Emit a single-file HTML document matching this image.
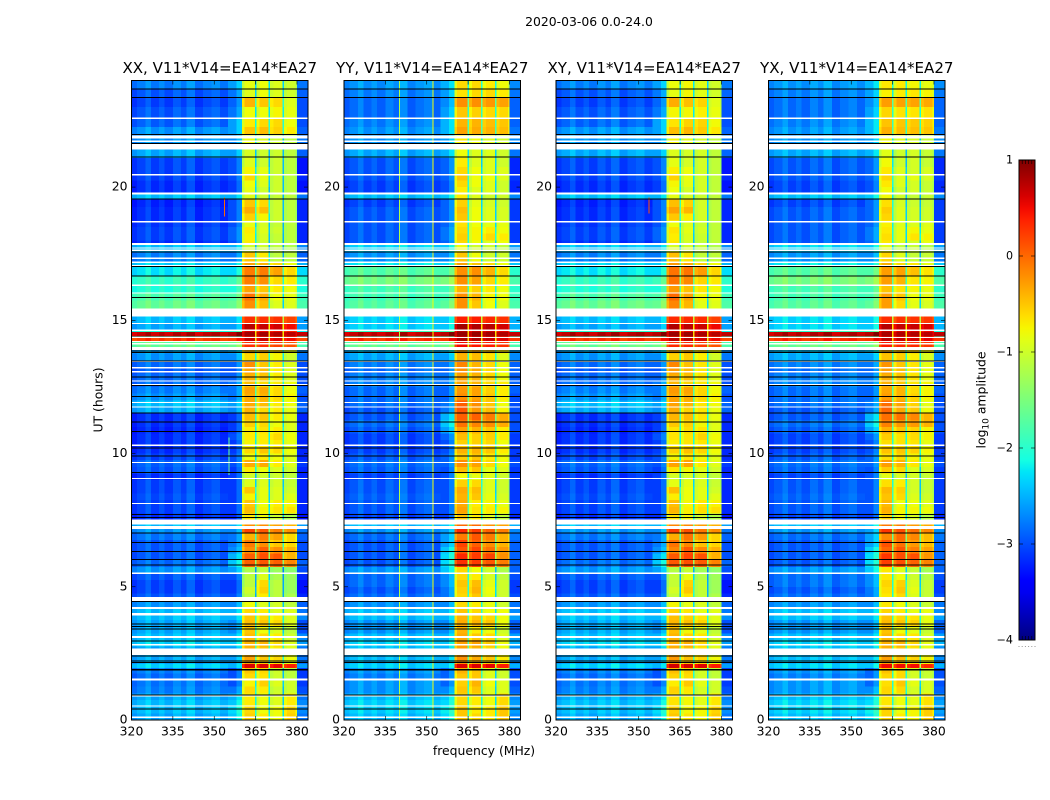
<!DOCTYPE html>
<html lang="en">
<head>
<meta charset="utf-8">
<title>2020-03-06 0.0-24.0</title>
<style>
html,body{margin:0;padding:0;background:#fff;width:1050px;height:800px;overflow:hidden}
svg{display:block}
text{font-family:"DejaVu Sans","Liberation Sans",sans-serif;fill:#000}
</style>
</head>
<body>
<svg id="chart" xmlns="http://www.w3.org/2000/svg" width="1050" height="800" viewBox="0 0 1050 800">
  <text x="589" y="26" font-size="12.4" text-anchor="middle">2020-03-06 0.0-24.0</text>
  <text x="484" y="755" font-size="12.4" text-anchor="middle">frequency (MHz)</text>
  <text x="0" y="0" font-size="12.4" text-anchor="middle" transform="translate(102.5,400) rotate(-90)">UT (hours)</text>
  <text x="0" y="0" font-size="12.4" text-anchor="middle" transform="translate(985.5,400) rotate(-90)">log<tspan font-size="9" dy="3">10</tspan><tspan dy="-3"> amplitude</tspan></text>
  <defs>
    <linearGradient id="jetGradient" x1="0" y1="1" x2="0" y2="0"></linearGradient>
  </defs>
</svg>
<script>
// ---------- chart data (hours, MHz, log10 amplitude) ----------
const panelTitles = ["XX, V11*V14=EA14*EA27","YY, V11*V14=EA14*EA27","XY, V11*V14=EA14*EA27","YX, V11*V14=EA14*EA27"];
const xTickLabels = [320,335,350,365,380];
const yTickLabels = [0,5,10,15,20];
const colorTickLabels = [1,0,-1,-2,-3,-4];
const colorEdgeTicks = [0,0.2,0.4,0.6,0.8,1];

// start hour of every time bin (a bin lasts until the next start; last ends at 24)
const rowStartHours = [0,.25,.5,.75,1,1.25,1.5,1.75,1.95,2.1,2.4,2.75,3,3.25,3.5,3.75,4,4.25,4.5,4.75,5,5.25,5.5,5.75,6,6.25,6.5,6.75,7,7.25,7.5,7.75,8,8.25,8.5,8.75,9,9.25,9.5,9.75,10,10.25,10.5,10.75,11,11.25,11.5,11.75,12,12.25,12.5,12.75,13,13.25,13.5,13.75,14,14.2,14.33,14.4,14.56,14.66,14.88,15.15,15.44,15.75,16,16.3,16.66,17.02,17.17,17.57,17.85,18,18.25,18.5,18.75,19,19.25,19.55,19.75,20,20.25,20.5,20.75,21.1,21.6,21.95,22.25,22.6,23,23.37,23.7];

// columns: 320-355, 355-360, 360-365, 365-370, 370-375, 375-380, 380-384 MHz
const seriesXX = [
[-2.5,-2.4,-.55,-.7,-.8,-.55,-2.8],[-2.4,-2.3,-.6,-.8,-.8,-.6,-2.7],[-2.4,-2.4,-.7,-.8,-.9,-.7,-2.7],[-2.5,-2.5,-.7,-.8,-.9,-.7,-2.8],
[-2.7,-2.8,-.6,-.7,-1,-1,-3],[-2.75,-3,-.75,-.55,-.9,-1,-3.1],[-2.8,-3,-.6,-.65,-1,-1.1,-3.1],[-2.7,-3,-.5,-.6,-1,-1.1,-3.1],
[-2.3,-2.5,.6,.6,.55,.4,-2.6],[-2.5,-2.6,-.3,-.5,-.6,-.8,-2.8],[-2.5,-2.6,-.4,-.5,-.7,-.9,-2.8],[-2.3,-2.4,-.4,-.4,-.6,-.9,-2.6],
[-2.4,-2.5,-.45,-.6,-.7,-1,-2.7],[-2.5,-2.7,-.5,-.8,-.9,-1.1,-3],[-2.5,-2.7,-.45,-.5,-.6,-.9,-3],[-2.4,-2.5,-.5,-.6,-.7,-.9,-2.7],
[-2.4,-2.5,-.6,-.7,-.9,-.9,-2.8],[-2.6,-2.7,-.8,-.9,-.95,-1.1,-2.9],[-2.9,-3,-1.1,-.7,-1.1,-1.2,-3.2],[-3,-3.1,-1,-.55,-1.1,-1.3,-3.3],
[-3,-3.1,-1.1,-.6,-1.1,-1.3,-3.3],[-2.9,-3,-1.1,-.9,-1.2,-1.3,-3.2],[-2.6,-2.6,-1.2,-1.1,-1.3,-1.4,-3],[-2.8,-2.4,.05,.1,.05,-.15,-2.9],
[-2.9,-2.5,.05,.15,.1,-.4,-3],[-2.9,-2.7,-.2,.05,-.2,-.4,-3],[-2.9,-2.8,-.1,-.2,-.5,-.6,-3],[-2.75,-2.8,-.4,-.1,-.3,-.6,-2.9],
[-2.6,-2.7,.2,.1,-.1,-.2,-2.8],[-2.4,-2.5,-.2,-.2,-.3,-.4,-2.6],[-3.1,-3.2,-.7,-.8,-1,-1.2,-3.3],[-3,-3.1,-.45,-.75,-.65,-.65,-3.2],
[-3,-3.1,-.5,-.8,-.7,-.75,-3.2],[-2.95,-3.1,-.75,-.85,-.9,-.9,-3.2],[-3,-3.1,-.5,-.85,-.9,-1,-3.2],[-3,-3.1,-.9,-.9,-.95,-1.05,-3.2],
[-3.1,-3.1,-1,-1,-1,-1.1,-3.2],[-2.9,-3.1,-.7,-.8,-.9,-1,-3.2],[-2.85,-3,-.35,-.35,-.7,-.9,-3.1],[-3,-3,-.8,-.7,-.8,-.9,-3.2],
[-3.1,-3.1,-.6,-.5,-.6,-.8,-3.2],[-3.1,-3.1,-.75,-.7,-.7,-.85,-3.2],[-3.1,-3,-.7,-.7,-.6,-.8,-3.2],[-3.15,-3.1,-.7,-.65,-.7,-.9,-3.2],
[-3.1,-3.1,-.55,-.6,-.8,-.9,-3.2],[-3.1,-3.1,-.45,-.5,-.7,-.85,-3.2],[-2.5,-2.7,-.4,-.6,-.7,-.85,-2.9],[-2.4,-2.6,-.35,-.45,-.7,-.8,-2.9],
[-2.6,-2.8,-.35,-.4,-.6,-.75,-3],[-2.7,-2.8,-.3,-.35,-.6,-.8,-2.9],[-2.8,-2.8,-.45,-.6,-.7,-.8,-3],[-2.8,-2.9,-.4,-.5,-.7,-.9,-3],
[-2.9,-3,-.3,-.45,-.7,-.9,-3],[-2.8,-2.9,-.2,-.5,-.7,-.9,-3],[-2.6,-2.7,-.6,-.55,-.75,-1,-2.8],[-2.5,-2.5,-.4,-.4,-.6,-.8,-2.7],
[-1.6,-1.6,.3,.3,.2,.1,-1.8],[.25,.2,.7,.7,.6,.5,.15],[-2,-2,.4,.4,.3,.3,-2],[.75,.75,.85,.85,.8,.75,.7],
[-2,-2,.6,.5,.5,.4,-2.2],[-2.5,-2.6,.75,.7,.65,.5,-2.6],[-2.4,-2.5,.3,.3,.3,.2,-2.6],[-2.4,-2.5,.2,.2,.2,.1,-2.6],
[-1.6,-1.65,-.2,-.45,-.9,-.9,-1.8],[-1.75,-1.8,-.05,-.35,-.8,-.85,-1.9],[-2,-2.1,-.3,-.5,-.7,-.8,-2.1],[-1.9,-1.9,-.1,-.2,-.6,-.7,-2],
[-2.2,-2.3,-.1,-.1,-.3,-.6,-2.3],[-2.3,-2.4,-.3,-.4,-.6,-.8,-2.5],[-2.7,-2.8,-.5,-.7,-1.1,-1.1,-2.9],[-2.4,-2.5,-1,-1,-1.1,-1.2,-2.7],
[-3.1,-3,-.7,-1,-1.1,-1.1,-3.2],[-3,-2.9,-.75,-.95,-1.05,-1.1,-3.2],[-3,-2.9,-.7,-.9,-1,-1.1,-3.2],[-3.05,-3,-.85,-.95,-1.05,-1.1,-3.2],
[-3.1,-3,-.55,-.75,-1,-1.1,-3.2],[-3.1,-3,-.35,-.45,-1,-1.1,-3.2],[-3.15,-3,-.5,-.6,-1,-1.1,-3.2],[-2.4,-2.5,-.9,-1,-1.05,-1.1,-2.8],
[-3.1,-3.1,-.85,-1,-1,-1.1,-3.3],[-3.1,-3.1,-.8,-.9,-1,-1.1,-3.3],[-3,-3,-.6,-.85,-1,-1.1,-3.2],[-3,-3,-.75,-.85,-1,-1.1,-3.3],
[-3,-3,-.9,-1,-1,-1.1,-3.3],[-2.5,-2.6,-.95,-1,-1,-1.1,-2.9],[-2.6,-2.7,-.8,-.9,-1,-1.1,-2.8],[-2.6,-2.6,-.5,-.45,-.55,-.7,-2.9],
[-2.85,-2.6,-.7,-.6,-.6,-.8,-3],[-2.9,-2.8,-.8,-.8,-.75,-.85,-3],[-3,-2.9,-.4,-.5,-.6,-.9,-3],[-2.9,-2.8,-.9,-.8,-.9,-1,-2.9],
[-2.7,-2.6,-.85,-.8,-.9,-1,-2.8]];

const seriesYY = [
[-2.4,-2.3,-.5,-.6,-.7,-.5,-2.7],[-2.3,-2.2,-.5,-.7,-.7,-.5,-2.6],[-2.3,-2.3,-.6,-.7,-.8,-.6,-2.6],[-2.4,-2.4,-.6,-.7,-.8,-.6,-2.7],
[-2.6,-2.7,-.5,-.5,-.9,-.9,-2.9],[-2.6,-2.9,-.55,-.4,-.8,-.9,-3],[-2.7,-2.9,-.5,-.5,-.9,-1,-3],[-2.6,-2.9,-.4,-.5,-.9,-1,-3],
[-2.3,-2.4,.6,.6,.55,.4,-2.5],[-2.4,-2.5,-.2,-.35,-.5,-.7,-2.7],[-2.4,-2.5,-.3,-.4,-.6,-.8,-2.7],[-2.3,-2.4,-.3,-.3,-.5,-.8,-2.5],
[-2.4,-2.5,-.35,-.5,-.6,-.9,-2.6],[-2.6,-2.7,-.4,-.7,-.8,-1,-2.9],[-2.6,-2.7,-.35,-.4,-.5,-.8,-2.9],[-2.4,-2.5,-.4,-.5,-.6,-.8,-2.6],
[-2.4,-2.5,-.5,-.6,-.8,-.8,-2.7],[-2.6,-2.7,-.6,-.7,-.85,-1,-2.8],[-2.8,-2.8,-.6,-.5,-.85,-1,-3],[-2.9,-2.8,-.55,-.4,-.8,-1,-3.1],
[-2.8,-2.7,-.5,-.45,-.85,-1,-3.1],[-2.8,-2.7,-.6,-.7,-.95,-1.1,-3],[-2.6,-2.4,-.6,-.8,-1,-1.2,-2.9],[-2.9,-2.3,.3,.25,.1,-.1,-2.9],
[-2.9,-2.3,.35,.25,.2,-.2,-2.9],[-2.9,-2.4,.1,.2,-.05,-.25,-2.9],[-2.9,-2.6,.2,.05,-.2,-.4,-2.9],[-2.8,-2.6,-.1,.1,-.1,-.4,-2.8],
[-2.6,-2.6,.35,.25,.05,-.1,-2.7],[-2.4,-2.4,0,0,-.2,-.3,-2.5],[-3,-3.1,-.5,-.7,-.9,-1.1,-3.2],[-2.9,-3,-.3,-.65,-.7,-.75,-3.1],
[-2.9,-3,-.35,-.7,-.75,-.85,-3.1],[-2.85,-3,-.4,-.5,-.85,-.95,-3.1],[-2.9,-3,-.35,-.45,-.9,-1,-3.1],[-2.9,-3,-.55,-.6,-.9,-1,-3.1],
[-3,-3,-.8,-.85,-.9,-1,-3.1],[-2.85,-3,-.45,-.5,-.85,-.9,-3.1],[-2.8,-2.9,-.2,-.3,-.6,-.8,-3],[-2.9,-2.9,-.55,-.5,-.7,-.8,-3.1],
[-3,-3,-.4,-.4,-.5,-.7,-3.1],[-3,-3,-.55,-.55,-.6,-.8,-3.1],[-3,-2.9,-.45,-.55,-.55,-.7,-3.1],[-2.9,-2.6,-.3,-.4,-.5,-.7,-3],
[-2.8,-2.4,-.05,-.15,-.2,-.35,-3],[-2.9,-2.5,.05,.05,-.1,-.35,-3],[-2.9,-2.8,.1,-.25,-.45,-.75,-3],[-2.8,-2.8,.05,-.2,-.5,-.8,-3],
[-2.8,-2.9,-.2,-.3,-.5,-.7,-3],[-2.8,-2.9,-.25,-.3,-.55,-.7,-2.9],[-2.7,-2.8,-.3,-.4,-.6,-.7,-2.9],[-2.7,-2.8,-.3,-.4,-.6,-.8,-2.9],
[-2.8,-2.9,-.2,-.35,-.6,-.8,-2.9],[-2.7,-2.8,-.15,-.4,-.6,-.8,-2.9],[-2.5,-2.6,-.4,-.45,-.65,-.9,-2.7],[-2.4,-2.4,-.3,-.35,-.5,-.7,-2.6],
[-1.6,-1.6,.5,.45,.4,.3,-1.8],[.3,.25,.8,.8,.7,.6,.25],[-1.9,-1.9,.6,.55,.5,.4,-1.9],[.75,.75,.9,.9,.85,.8,.7],
[-1.9,-1.9,.75,.7,.65,.55,-2.1],[-2.3,-2.4,.85,.8,.75,.65,-2.5],[-2.3,-2.4,.4,.4,.35,.3,-2.5],[-2.3,-2.4,.3,.3,.3,.2,-2.5],
[-1.7,-1.7,-.2,-.5,-.8,-.9,-1.8],[-1.8,-1.85,-.2,-.4,-.75,-.8,-1.9],[-1.8,-1.9,-.4,-.55,-.7,-.8,-2],[-1.5,-1.5,-.2,-.3,-.6,-.7,-1.8],
[-1.7,-1.8,-.2,-.2,-.4,-.6,-2],[-2.2,-2.3,-.3,-.5,-.6,-.8,-2.4],[-2.6,-2.7,-.5,-.8,-1,-1,-2.8],[-2.3,-2.4,-.8,-1,-1,-1.1,-2.6],
[-2.9,-2.9,-.6,-.8,-.9,-.8,-3.1],[-2.9,-2.8,-.55,-.75,-.6,-.7,-3.1],[-2.9,-2.8,-.6,-.75,-.7,-.8,-3.1],[-2.9,-2.9,-.65,-.8,-.85,-.85,-3.1],
[-2.9,-2.9,-.5,-.8,-.9,-.95,-3.1],[-2.9,-2.9,-.45,-.8,-.9,-.95,-3.1],[-3,-2.9,-.55,-.85,-.95,-1,-3.1],[-2.4,-2.4,-.7,-.9,-1,-1,-2.7],
[-3,-3,-.7,-.9,-.9,-1,-3.2],[-3,-3,-.6,-.8,-.9,-1,-3.2],[-2.9,-2.9,-.5,-.8,-.8,-.9,-3.1],[-2.9,-2.9,-.6,-.8,-.9,-.9,-3.2],
[-2.9,-2.9,-.7,-.9,-.9,-1,-3.2],[-2.5,-2.5,-.8,-.9,-.9,-1,-2.8],[-2.6,-2.6,-.7,-.8,-.9,-1,-2.7],[-2.6,-2.5,-.3,-.35,-.4,-.45,-2.8],
[-2.7,-2.5,-.4,-.4,-.45,-.5,-2.9],[-2.8,-2.6,-.5,-.55,-.6,-.6,-2.9],[-2.8,-2.7,-.2,-.2,-.25,-.3,-2.9],[-2.7,-2.6,-.65,-.6,-.6,-.7,-2.8],
[-2.6,-2.5,-.6,-.6,-.7,-.8,-2.7]];

// per-column level difference of the cross hands relative to their parent hand
const offsetsXX = [0,0,0,0,0,0,0];
const offsetsYY = [0,0,0,0,0,0,0];
const offsetsXY = [.02,.02,.04,.04,.03,.02,.02];
const offsetsYX = [.02,.02,-.08,-.1,-.06,-.04,.02];

// frequency channels: start MHz, source column, bandpass level adjustment
const channelStartMHz = [320,322,325,327,330,332,335,338,340,343,346,349,352,355,358,360,361,364.7,365.3,366.4,369.7,370.3,371.4,374.7,375.3,376.4,379.4,380];
const channelColumn   = [0,0,0,0,0,0,0,0,0,0,0,0,0,1,1,2,2,2,3,3,3,4,4,4,5,5,5,6];
const channelAdjust   = [-.15,-.05,.1,-.1,.02,-.12,.05,-.08,.12,-.14,-.02,.06,-.1,0,.25,-.25,0,-1.45,-.2,0,-1.45,-.1,0,-1.45,-.1,0,-.2,0];

// flagged (blank) time ranges and dead-correlator (black) times, hours
const flagStartHours = [.08,.5,.88,1.48,2.44,2.79,3.08,3.93,4.17,4.46,5.48,7.17,7.33,8.1,9.04,9.64,10.28,11.72,11.9,12.56,12.7,13.04,13.2,13.45,13.88,14.1,14.19,14.34,14.6,14.86,15.15,16,16.29,17.05,17.15,17.31,17.6,17.7,17.83,18.68,19.72,20.44,21.41,21.7,21.83,22.56];
const flagEndHours   = [.13,.54,.92,1.56,2.68,2.85,3.16,4.02,4.24,4.62,5.53,7.28,7.53,8.15,9.09,9.69,10.33,11.77,11.94,12.61,12.75,13.09,13.25,13.48,14,14.14,14.22,14.37,14.65,14.9,15.44,16.05,16.34,17.08,17.2,17.36,17.65,17.74,17.9,18.73,19.8,20.49,21.63,21.74,21.93,22.61];
const blackHours = [.42,.94,1.87,1.9,2.15,2.22,2.41,2.97,3.42,3.5,3.6,4.44,5.82,6.02,6.32,6.67,7.02,7.6,7.71,9.29,9.9,10.2,10.82,11.19,11.52,12.15,12.55,12.87,13.47,13.8,13.84,15.85,16.66,17.02,17.57,19.56,21.12,21.63,21.97,23.37,23.69];

// narrow-band interference lines
const rfiPanel = [1,1,0,0,2];
const rfiMHz = [340,352,355.2,353.6,353.6];
const rfiStartHours = [0,0,9.2,18.9,19];
const rfiEndHours = [24,24,10.6,19.6,19.6];
const rfiLevel = [-1.2,-.8,-1.6,0,.1];

// ---------- layout & scales ----------
const svgNS = "http://www.w3.org/2000/svg";
const chart = document.getElementById("chart");
const panelLeft = [131.5,344,556,768.5];
const panelWidth = 176.5;
const plotTop = 80.5;
const plotBottom = 720;
const freqMin = 320, freqMax = 384, hourMin = 0, hourMax = 24;
const colorMin = -4, colorMax = 1;
const cbarLeft = 1019, cbarWidth = 16, cbarTop = 160, cbarBottom = 640;

function xScale(mhz, p){ return panelLeft[p] + (mhz - freqMin) / (freqMax - freqMin) * panelWidth; }
function yScale(h){ return plotBottom - (h - hourMin) / (hourMax - hourMin) * (plotBottom - plotTop); }
function cScale(v){ return cbarBottom - (v - colorMin) / (colorMax - colorMin) * (cbarBottom - cbarTop); }
function ramp(t, pts){
  if (t <= pts[0][0]) return pts[0][1];
  for (let i = 1; i < pts.length; i++) {
    if (t <= pts[i][0]) {
      const f = (t - pts[i-1][0]) / (pts[i][0] - pts[i-1][0]);
      return pts[i-1][1] + f * (pts[i][1] - pts[i-1][1]);
    }
  }
  return pts[pts.length-1][1];
}
function jet(v){
  const t = Math.max(0, Math.min(1, (v - colorMin) / (colorMax - colorMin)));
  const r = ramp(t, [[0,0],[.35,0],[.66,1],[.89,1],[1,.5]]);
  const g = ramp(t, [[0,0],[.125,0],[.375,1],[.64,1],[.91,0],[1,0]]);
  const b = ramp(t, [[0,.5],[.11,1],[.34,1],[.65,0],[1,0]]);
  return "rgb(" + Math.round(r*255) + "," + Math.round(g*255) + "," + Math.round(b*255) + ")";
}
function make(tag, parent, attrs){
  const el = document.createElementNS(svgNS, tag);
  for (const k in attrs) el.setAttribute(k, attrs[k]);
  parent.appendChild(el);
  return el;
}

const panelSeries = [seriesXX, seriesYY, seriesXX, seriesYY];
const panelOffsets = [offsetsXX, offsetsYY, offsetsXY, offsetsYX];
const panelKeys = ["xx","yy","xy","yx"];

panelTitles.forEach(function(title, p){
  const g = make("g", chart, {});
  
  

  const cells = make("g", g, {"shape-rendering":"crispEdges"});
  
  
  const series = panelSeries[p];
  const offs = panelOffsets[p];

  // heatmap cells
  rowStartHours.forEach(function(startH, r){
    const endH = r + 1 < rowStartHours.length ? rowStartHours[r+1] : hourMax;
    channelStartMHz.forEach(function(startF, c){
      const endF = c + 1 < channelStartMHz.length ? channelStartMHz[c+1] : freqMax;
      const col = channelColumn[c];
      const level = series[r][col] + offs[col] + channelAdjust[c];
      const x0 = xScale(startF, p), x1 = xScale(endF, p), y0 = yScale(endH), y1 = yScale(startH);
      const cell = make("rect", cells, {x:x0, y:y0, width:x1-x0, height:y1-y0, fill:jet(level)});
      
      
    });
  });

  // interference lines
  rfiMHz.forEach(function(mhz, i){
    if (rfiPanel[i] !== p) return;
    const y0 = yScale(rfiEndHours[i]), y1 = yScale(rfiStartHours[i]);
    const line = make("rect", cells, {x:xScale(mhz,p), y:y0, width:1, height:y1-y0, fill:jet(rfiLevel[i])});
    
    
  });

  // flagged rows
  flagStartHours.forEach(function(startH, i){
    const y0 = yScale(flagEndHours[i]), y1 = yScale(startH);
    const flag = make("rect", cells, {x:panelLeft[p], y:y0, width:panelWidth, height:Math.max(1,y1-y0), fill:"#fff"});
    
    
  });
  blackHours.forEach(function(h){
    const line = make("rect", cells, {x:panelLeft[p], y:yScale(h)-0.5, width:panelWidth, height:1, fill:"#000"});
    
    
  });

  // frame
  const frame = make("rect", g, {x:panelLeft[p], y:plotTop, width:panelWidth, height:plotBottom-plotTop, fill:"none", stroke:"#000", "stroke-width":1});
  
  

  // x ticks
  xTickLabels.forEach(function(v){
    const x = xScale(v, p);
    const t1 = make("line", g, {x1:x, x2:x, y1:plotBottom, y2:plotBottom-4, stroke:"#000", "stroke-width":.6});
    
    
    const t2 = make("line", g, {x1:x, x2:x, y1:plotTop, y2:plotTop+4, stroke:"#000", "stroke-width":.6});
    
    
    const label = make("text", g, {x:x, y:plotBottom+15.5, "font-size":12.4, "text-anchor":"middle"});
    label.textContent = String(v);
    
    
  });

  // y ticks
  yTickLabels.forEach(function(v){
    const y = yScale(v);
    const left = panelLeft[p], right = panelLeft[p] + panelWidth;
    const t1 = make("line", g, {x1:left, x2:left+4, y1:y, y2:y, stroke:"#000", "stroke-width":.6});
    
    
    const t2 = make("line", g, {x1:right, x2:right-4, y1:y, y2:y, stroke:"#000", "stroke-width":.6});
    
    
    const label = make("text", g, {x:left-4, y:y+3.5, "font-size":12.4, "text-anchor":"end"});
    label.textContent = String(v);
    
    
  });

  // title
  const head = make("text", g, {x:panelLeft[p]+panelWidth/2, y:73, "font-size":15.05, "text-anchor":"middle"});
  head.textContent = title;
  
  
});

// ---------- colorbar ----------
const gradient = document.getElementById("jetGradient");
for (let i = 0; i <= 40; i++) {
  const v = colorMin + (colorMax - colorMin) * i / 40;
  make("stop", gradient, {offset:(i/40), "stop-color":jet(v)});
}
const cbar = make("g", chart, {});


const cbarBody = make("rect", cbar, {x:cbarLeft, y:cbarTop, width:cbarWidth, height:cbarBottom-cbarTop, fill:"url(#jetGradient)", stroke:"#000", "stroke-width":1});


colorTickLabels.forEach(function(v){
  const y = cScale(v);
  const t1 = make("line", cbar, {x1:cbarLeft, x2:cbarLeft+4, y1:y, y2:y, stroke:"#000", "stroke-width":.6});
  
  
  const t2 = make("line", cbar, {x1:cbarLeft+cbarWidth, x2:cbarLeft+cbarWidth-4, y1:y, y2:y, stroke:"#000", "stroke-width":.6});
  
  
  const label = make("text", cbar, {x:1013, y:y+3.5, "font-size":11.1, "text-anchor":"end"});
  label.textContent = v < 0 ? "\u2212" + Math.abs(v) : String(v);
  
  
});
colorEdgeTicks.forEach(function(f){
  const x = cbarLeft + f * cbarWidth;
  const t1 = make("line", cbar, {x1:x, x2:x, y1:cbarTop, y2:cbarTop+4, stroke:"#000", "stroke-width":.6});
  
  
  const t2 = make("line", cbar, {x1:x, x2:x, y1:cbarBottom, y2:cbarBottom-4, stroke:"#000", "stroke-width":.6});
  
  
  const dot = make("rect", cbar, {x:x-0.5, y:646, width:1, height:1, fill:"#999"});
  
  
});
</script>
</body>
</html>
